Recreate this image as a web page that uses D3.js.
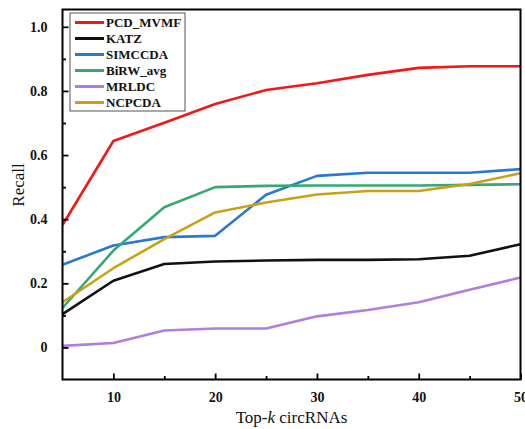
<!DOCTYPE html>
<html>
<head>
<meta charset="utf-8">
<script src="https://cdn.jsdelivr.net/npm/d3@7/dist/d3.min.js"></script>
<style>
  html, body { margin: 0; padding: 0; background: #fff; }
  svg { display: block; }
  text { font-family: "Liberation Serif", "Times New Roman", serif; }
</style>
</head>
<body>
<svg id="chart" width="525" height="429"></svg>
<script>
// Top-k values on the x axis
const topK = [5, 10, 15, 20, 25, 30, 35, 40, 45, 50];

// Recall per method
const pcdMvmf = [0.382, 0.644, 0.701, 0.759, 0.803, 0.824, 0.850, 0.872, 0.877, 0.877];
const katz    = [0.104, 0.208, 0.260, 0.268, 0.271, 0.273, 0.273, 0.275, 0.286, 0.322];
const simccda = [0.258, 0.318, 0.344, 0.348, 0.476, 0.535, 0.545, 0.545, 0.545, 0.556];
const birwAvg = [0.123, 0.302, 0.437, 0.500, 0.504, 0.505, 0.505, 0.505, 0.507, 0.509];
const mrldc   = [0.005, 0.014, 0.053, 0.059, 0.059, 0.097, 0.117, 0.141, 0.180, 0.218];
const ncpcda  = [0.141, 0.247, 0.338, 0.421, 0.452, 0.477, 0.488, 0.488, 0.510, 0.543];

const seriesNames = ["PCD_MVMF", "KATZ", "SIMCCDA", "BiRW_avg", "MRLDC", "NCPCDA"];
const seriesValues = [pcdMvmf, katz, simccda, birwAvg, mrldc, ncpcda];
const seriesColors = ["#f01818", "#111111", "#2a78d2", "#36a874", "#b07ee0", "#c9a117"];

// Axis ticks
const xMajorTicks = [10, 20, 30, 40, 50];
const xMinorTicks = [15, 25, 35, 45];
const yMajorTicks = [0, 0.2, 0.4, 0.6, 0.8, 1.0];
const yMinorTicks = [0.1, 0.3, 0.5, 0.7, 0.9];

const svg = d3.select("#chart");
const plotLeft = 62.5, plotRight = 520.5, plotTop = 9.5, plotBottom = 379.5;

const x = d3.scaleLinear().domain([5, 50]).range([plotLeft, plotRight]);
const y = d3.scaleLinear().domain([-0.1, 1.054]).range([plotBottom, plotTop]);

// Series lines
const line = d3.line().x((d, i) => x(topK[i])).y(d => y(d));
const plot = svg.append("g");
seriesValues.forEach((vals, i) => {
  plot.append("path")
    .datum(vals)
    .attr("d", line)
    .attr("fill", "none")
    .attr("stroke", seriesColors[i])
    .attr("stroke-width", 2.6)
    .attr("stroke-linejoin", "round");
});

// Frame
svg.append("rect")
  .attr("x", plotLeft).attr("y", plotTop)
  .attr("width", plotRight - plotLeft).attr("height", plotBottom - plotTop)
  .attr("fill", "none").attr("stroke", "#000").attr("stroke-width", 2);

// Bottom axis with inward ticks
const xAxis = svg.append("g").attr("transform", `translate(0,${plotBottom})`)
  .call(d3.axisBottom(x).tickValues(xMajorTicks).tickSizeInner(-6).tickSizeOuter(0).tickPadding(13));
xAxis.select(".domain").remove();
xAxis.selectAll(".tick line").attr("stroke-width", 1.8);
xAxis.selectAll("text")
  .attr("font-size", 14).attr("font-weight", "bold").attr("fill", "#111")
  .attr("font-family", "Liberation Serif, serif");
svg.append("g").attr("transform", `translate(0,${plotBottom})`)
  .call(d3.axisBottom(x).tickValues(xMinorTicks).tickSizeInner(-3.5).tickSizeOuter(0).tickFormat(""))
  .call(g => g.select(".domain").remove())
  .selectAll(".tick line").attr("stroke-width", 1.8);

// Left axis with inward ticks
const yAxis = svg.append("g").attr("transform", `translate(${plotLeft},0)`)
  .call(d3.axisLeft(y).tickValues(yMajorTicks).tickSizeInner(-6).tickSizeOuter(0).tickPadding(15)
    .tickFormat(d => d === 0 ? "0" : d3.format(".1f")(d)));
yAxis.select(".domain").remove();
yAxis.selectAll(".tick line").attr("stroke-width", 1.8);
yAxis.selectAll("text")
  .attr("font-size", 14).attr("font-weight", "bold").attr("fill", "#111")
  .attr("font-family", "Liberation Serif, serif");
svg.append("g").attr("transform", `translate(${plotLeft},0)`)
  .call(d3.axisLeft(y).tickValues(yMinorTicks).tickSizeInner(-3.5).tickSizeOuter(0).tickFormat(""))
  .call(g => g.select(".domain").remove())
  .selectAll(".tick line").attr("stroke-width", 1.8);

// Axis titles
const xTitle = svg.append("text")
  .attr("x", (plotLeft + plotRight) / 2).attr("y", 423)
  .attr("text-anchor", "middle").attr("font-size", 17).attr("fill", "#111");
xTitle.append("tspan").text("Top-");
xTitle.append("tspan").attr("font-style", "italic").text("k");
xTitle.append("tspan").text(" circRNAs");

svg.append("text")
  .attr("transform", "translate(24,185) rotate(-90)")
  .attr("text-anchor", "middle").attr("font-size", 17).attr("fill", "#111")
  .text("Recall");

// Legend
const legend = svg.append("g");
legend.append("rect")
  .attr("x", 70).attr("y", 13).attr("width", 115).attr("height", 98)
  .attr("fill", "#fff").attr("stroke", "#555").attr("stroke-width", 1);
seriesNames.forEach((name, i) => {
  const ly = 22.5 + i * 16;
  legend.append("line")
    .attr("x1", 75).attr("x2", 104).attr("y1", ly).attr("y2", ly)
    .attr("stroke", seriesColors[i]).attr("stroke-width", 3);
  legend.append("text")
    .attr("x", 106).attr("y", ly + 4.5)
    .attr("font-size", 13).attr("font-weight", "bold").attr("fill", "#111")
    .text(name);
});
</script>
</body>
</html>
